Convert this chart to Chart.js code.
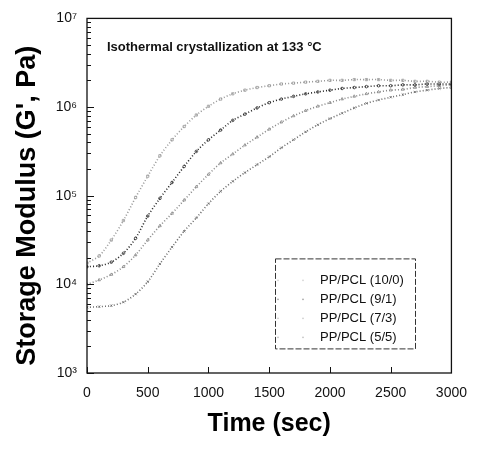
<!DOCTYPE html>
<html>
<head>
<meta charset="utf-8">
<script src="https://cdn.jsdelivr.net/npm/chart.js@4.4.1/dist/chart.umd.min.js"></script>
<style>
html,body{margin:0;padding:0;background:#fff;}
#wrap{position:relative;width:479px;height:451px;}
</style>
</head>
<body>
<div id="wrap"><canvas id="c" width="479" height="451"></canvas></div>
<script>
// ---- data (time in s, storage modulus G' in Pa) ----
const timeSec = [0,100,200,300,400,500,600,700,800,900,1000,1100,1200,1300,1400,1500,
                 1600,1700,1800,1900,2000,2100,2200,2300,2400,2500,2600,2700,2800,2900,3000];
const seriesNames = ["PP/PCL (10/0)", "PP/PCL (9/1)", "PP/PCL (7/3)", "PP/PCL (5/5)"];
const g_10_0 = [17400,20900,31600,52500,95500,166000,282000,427000,603000,813000,1020000,
                1230000,1410000,1550000,1660000,1740000,1820000,1860000,1910000,1950000,2000000,
                2000000,2040000,2040000,2040000,2000000,2000000,1950000,1950000,1910000,1910000];
const g_9_1  = [15800,16200,17800,22400,33100,58900,93300,141000,214000,316000,427000,
                550000,708000,832000,977000,1120000,1230000,1320000,1410000,1480000,1550000,
                1620000,1660000,1700000,1740000,1740000,1780000,1780000,1820000,1820000,1820000];
const g_7_3  = [10000,11200,12900,15800,21400,31600,45700,63100,89100,126000,174000,
                234000,295000,372000,457000,562000,676000,794000,912000,1020000,1120000,
                1230000,1320000,1410000,1480000,1550000,1580000,1660000,1700000,1740000,1780000];
const g_5_5  = [5500,5600,5750,6300,7760,10700,17000,26300,39800,56200,81300,
                112000,145000,182000,224000,275000,347000,427000,525000,631000,741000,
                851000,977000,1100000,1200000,1290000,1380000,1480000,1550000,1620000,1660000];
const yTickValues = [1e3,1e4,1e5,1e6,1e7];
const yTickLabels = ["10³","10⁴","10⁵","10⁶","10⁷"];
const xTickValues = [0,500,1000,1500,2000,2500,3000];
const xTickLabels = ["0","500","1000","1500","2000","2500","3000"];
const annotationText = "Isothermal crystallization at 133 °C";
const yTitle = "Storage Modulus (G', Pa)";
const xTitle = "Time (sec)";

const FONT = "'Liberation Sans', Arial, Helvetica, sans-serif";

const seriesValues = [g_10_0, g_9_1, g_7_3, g_5_5];
const styles = [
  {color:'#9a9a9a', pt:'rect',     r:1.6},
  {color:'#2a2a2a', pt:'circle',   r:1.3},
  {color:'#8a8a8a', pt:'triangle', r:1.6},
  {color:'#6e6e6e', pt:'crossRot', r:1.6}
];
const datasets = seriesValues.map((vals,i)=>({
  label: seriesNames[i],
  data: timeSec.map((t,k)=>({x:t, y:vals[k]})),
  borderColor: styles[i].color,
  backgroundColor: 'rgba(0,0,0,0)',
  borderWidth: 1.6,
  borderDash: [1,2],
  pointStyle: styles[i].pt,
  pointRadius: styles[i].r,
  pointBorderWidth: 0.8,
  pointBorderColor: styles[i].color,
  showLine: true,
  tension: 0.3
}));

const framePlugin = {
  id:'frame',
  afterDraw(chart){
    const {ctx, chartArea:a, scales} = chart;
    const ys = scales.y, xs = scales.x;
    ctx.save();
    ctx.strokeStyle = '#111';
    ctx.lineWidth = 1.3;
    ctx.strokeRect(a.left, a.top, a.right-a.left, a.bottom-a.top);
    ctx.lineWidth = 1;
    for (let d=3; d<7; d++){
      for (let m=1; m<10; m++){
        const y = Math.round(ys.getPixelForValue(m*Math.pow(10,d)))+0.5;
        const len = (m===1)?7:4;
        ctx.beginPath(); ctx.moveTo(a.left,y); ctx.lineTo(a.left+len,y); ctx.stroke();
      }
    }
    xTickValues.forEach(v=>{
      const x = Math.round(xs.getPixelForValue(v))+0.5;
      ctx.beginPath(); ctx.moveTo(x,a.bottom); ctx.lineTo(x,a.bottom-6); ctx.stroke();
    });
    // y axis title
    ctx.save();
    ctx.translate(28, (a.top+a.bottom)/2 + 10);
    ctx.rotate(-Math.PI/2);
    ctx.fillStyle = '#000';
    ctx.font = "bold 27px " + FONT;
    ctx.textAlign = 'center';
    ctx.textBaseline = 'middle';
    ctx.fillText(yTitle, 0, 0);
    ctx.restore();
    // annotation text
    ctx.fillStyle = '#111';
    ctx.font = "bold 13px " + FONT;
    ctx.textBaseline = 'middle';
    ctx.textAlign = 'left';
    ctx.fillText(annotationText, a.left+20, a.top+29);
    // legend box
    const lx = a.left+188, ly = a.top+240, lw = 140, lh = 90;
    ctx.strokeStyle = '#333';
    ctx.lineWidth = 1;
    ctx.setLineDash([6,2]);
    ctx.strokeRect(lx+0.5, ly+0.5, lw, lh);
    ctx.setLineDash([]);
    ctx.font = "13px " + FONT;
    seriesNames.forEach((nm,i)=>{
      const yy = ly + 22 + i*19;
      ctx.fillStyle = '#111';
      ctx.fillText(nm, lx+45, yy);
      ctx.fillStyle = styles[i].color;
      ctx.globalAlpha = 0.45;
      ctx.beginPath(); ctx.arc(lx+3, yy, 0.8, 0, 6.3); ctx.fill();
      ctx.beginPath(); ctx.arc(lx+28, yy, 0.8, 0, 6.3); ctx.fill();
      ctx.globalAlpha = 1;
    });
    ctx.restore();
  }
};

new Chart(document.getElementById('c'), {
  type:'scatter',
  data:{datasets},
  options:{
    responsive:false,
    animation:false,
    devicePixelRatio:1,
    layout:{padding:{left:0, top:18, right:19, bottom:0}},
    plugins:{legend:{display:false}, tooltip:{enabled:false}},
    scales:{
      x:{
        type:'linear', min:0, max:3000,
        afterFit(s){ s.height = 78; },
        afterBuildTicks(s){ s.ticks = xTickValues.map(v=>({value:v})); },
        grid:{display:false, drawTicks:false},
        border:{display:false},
        ticks:{color:'#111', font:{family:FONT, size:14}, padding:12, maxRotation:0,
               callback:(v)=>{ const i = xTickValues.indexOf(v); return i>=0 ? xTickLabels[i] : ''; }},
        title:{display:true, text:xTitle, color:'#000',
               font:{family:FONT, size:25, weight:'bold'}, padding:{top:0,bottom:12}}
      },
      y:{
        type:'logarithmic', min:1e3, max:1e7,
        afterFit(s){ s.width = 87; },
        afterBuildTicks(s){ s.ticks = yTickValues.map(v=>({value:v})); },
        grid:{display:false, drawTicks:false},
        border:{display:false},
        ticks:{color:'#111', font:{family:FONT, size:14}, padding:10,
               callback:(v)=>{ const i = yTickValues.indexOf(v); return i>=0 ? yTickLabels[i] : ''; }},
        title:{display:false}
      }
    }
  },
  plugins:[framePlugin]
});
</script>
</body>
</html>
